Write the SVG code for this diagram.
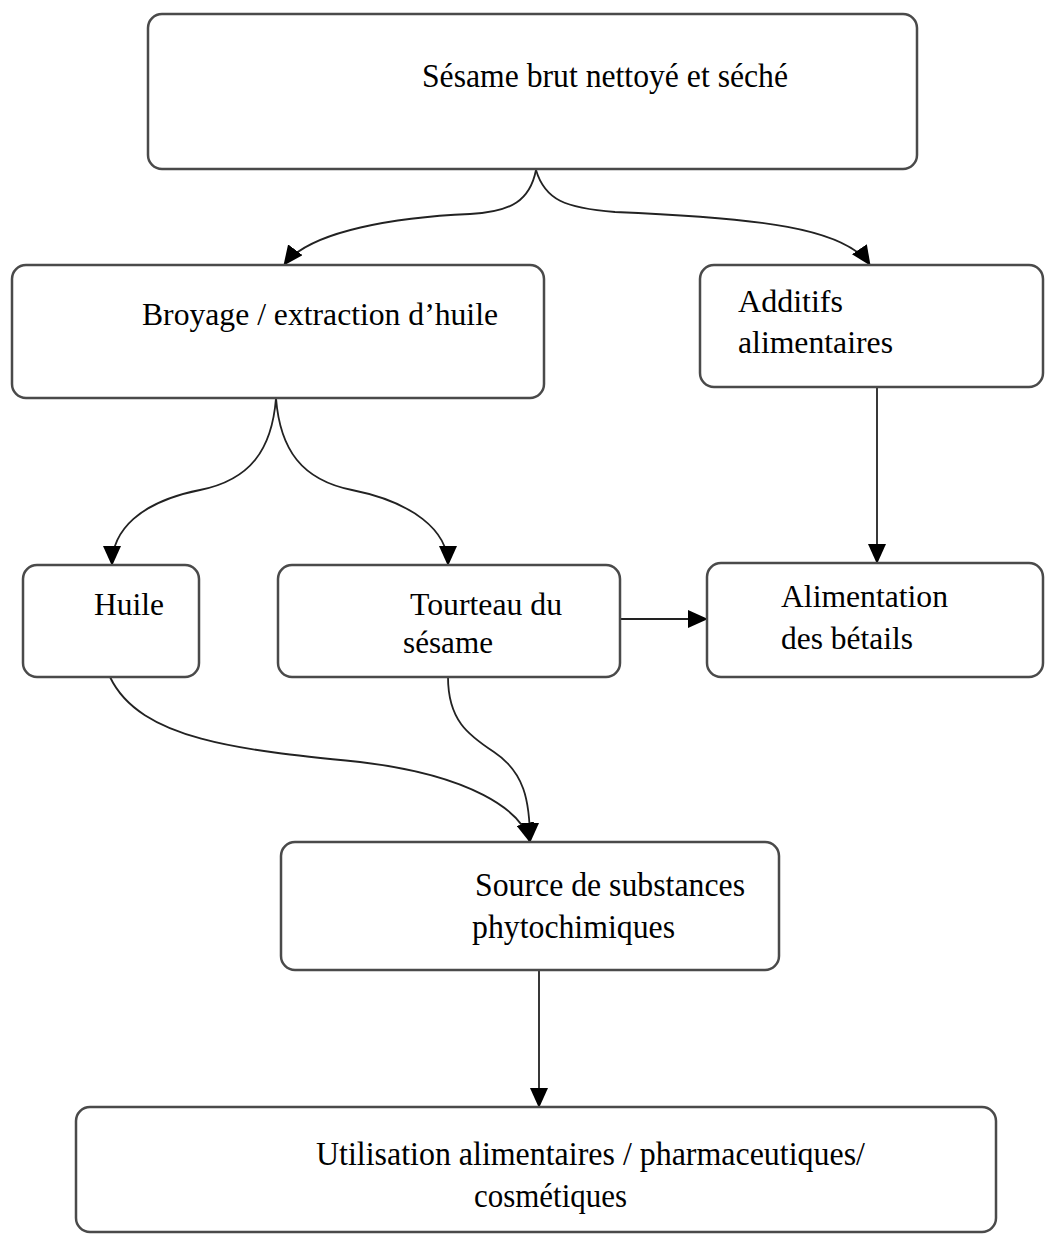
<svg xmlns="http://www.w3.org/2000/svg" width="1045" height="1240" viewBox="0 0 1045 1240">
<style>
.box{fill:#fff;stroke:#4a4a4a;stroke-width:2.5}
.t{font-family:"Liberation Serif","Times New Roman",serif;font-size:32px;fill:#000}
.tc{font-family:"Liberation Serif","Times New Roman",serif;font-size:34px;fill:#000}
.c{fill:none;stroke:#222;stroke-width:1.8}
</style>
<defs>
<marker id="ah" markerWidth="20" markerHeight="18" refX="19" refY="9" orient="auto" markerUnits="userSpaceOnUse">
<path d="M0,0 L20,9 L0,18 Z" fill="#000"/>
</marker>
</defs>
<rect width="1045" height="1240" fill="#fff"/>
<g id="connectors">
<path class="c" marker-end="url(#ah)" d="M536 170 C530 200 512 212 470 214 C400 217 310 230 284 265"/>
<path class="c" marker-end="url(#ah)" d="M536 170 C545 200 565 208 615 212 C760 218 845 228 870 265"/>
<path class="c" marker-end="url(#ah)" d="M276 398 C272 450 250 480 200 490 C140 502 112 530 112 565"/>
<path class="c" marker-end="url(#ah)" d="M276 398 C280 450 302 480 352 490 C412 502 448 530 448 565"/>
<path class="c" marker-end="url(#ah)" d="M877 387 L877 563"/>
<path class="c" marker-end="url(#ah)" d="M620 619 L707 619"/>
<path class="c" marker-end="url(#ah)" d="M110 677 C140 740 240 750 360 762 C470 775 522 810 530 842"/>
<path class="c" marker-end="url(#ah)" d="M448 677 C448 720 468 735 494 752 C524 772 530 800 530 842"/>
<path class="c" marker-end="url(#ah)" d="M539 970 L539 1107"/>
</g>
<g id="n-sesame">
<rect class="box" x="148" y="14" width="769" height="155" rx="14"/>
<text class="tc" x="422" y="87" textLength="366" lengthAdjust="spacingAndGlyphs">Sésame brut nettoyé et séché</text>
</g>
<g id="n-broyage">
<rect class="box" x="12" y="265" width="532" height="133" rx="14"/>
<text class="t" x="142" y="325" textLength="356" lengthAdjust="spacingAndGlyphs">Broyage / extraction d’huile</text>
</g>
<g id="n-additifs">
<rect class="box" x="700" y="265" width="343" height="122" rx="14"/>
<text class="t" x="738" y="312" textLength="105" lengthAdjust="spacingAndGlyphs">Additifs</text>
<text class="t" x="738" y="353" textLength="155" lengthAdjust="spacingAndGlyphs">alimentaires</text>
</g>
<g id="n-huile">
<rect class="box" x="23" y="565" width="176" height="112" rx="14"/>
<text class="t" x="94" y="615" textLength="70" lengthAdjust="spacingAndGlyphs">Huile</text>
</g>
<g id="n-tourteau">
<rect class="box" x="278" y="565" width="342" height="112" rx="14"/>
<text class="t" x="410" y="615" textLength="152" lengthAdjust="spacingAndGlyphs">Tourteau du</text>
<text class="t" x="403" y="653" textLength="90" lengthAdjust="spacingAndGlyphs">sésame</text>
</g>
<g id="n-alimentation">
<rect class="box" x="707" y="563" width="336" height="114" rx="14"/>
<text class="t" x="781" y="607" textLength="167" lengthAdjust="spacingAndGlyphs">Alimentation</text>
<text class="t" x="781" y="649" textLength="132" lengthAdjust="spacingAndGlyphs">des bétails</text>
</g>
<g id="n-source">
<rect class="box" x="281" y="842" width="498" height="128" rx="14"/>
<text class="tc" x="475" y="896" textLength="270" lengthAdjust="spacingAndGlyphs">Source de substances</text>
<text class="tc" x="472" y="938" textLength="203" lengthAdjust="spacingAndGlyphs">phytochimiques</text>
</g>
<g id="n-utilisation">
<rect class="box" x="76" y="1107" width="920" height="125" rx="14"/>
<text class="tc" x="316" y="1165" textLength="549" lengthAdjust="spacingAndGlyphs">Utilisation alimentaires / pharmaceutiques/</text>
<text class="tc" x="474" y="1207" textLength="153" lengthAdjust="spacingAndGlyphs">cosmétiques</text>
</g>
</svg>
